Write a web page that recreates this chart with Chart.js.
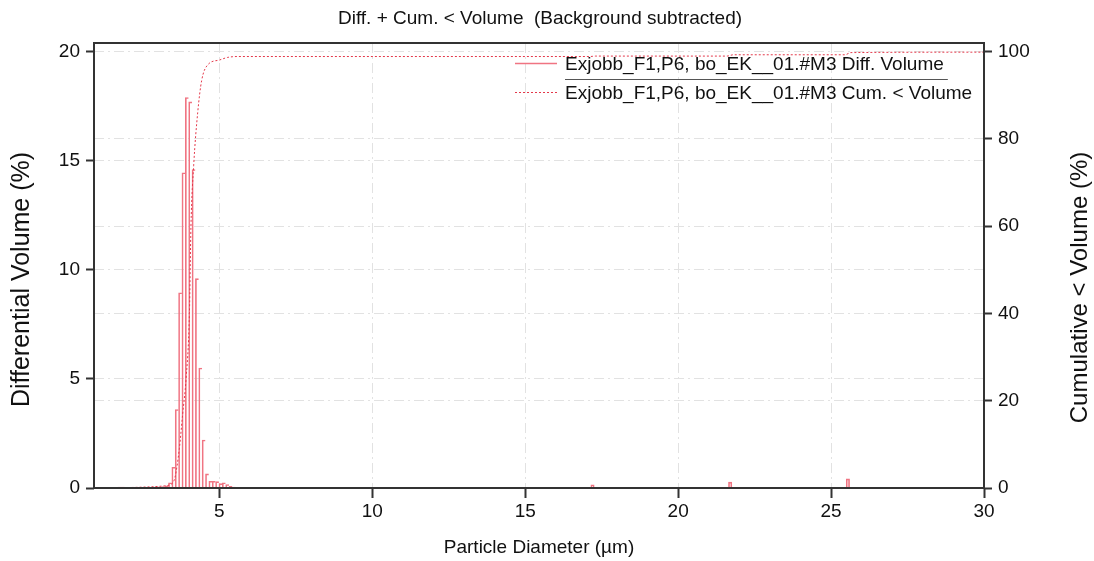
<!DOCTYPE html>
<html>
<head>
<meta charset="utf-8">
<script src="https://cdn.jsdelivr.net/npm/chart.js@4.4.0/dist/chart.umd.min.js"></script>
<style>
  html, body { margin: 0; padding: 0; background: #fff; }
</style>
</head>
<body>
<canvas id="chart" width="1094" height="561"></canvas>
<script>
// bin centres (µm) and differential volume (%)
const diameters = [
  1.30, 1.41, 1.52, 1.63, 1.74, 1.85, 1.96, 2.07, 2.18, 2.29,
  2.40, 2.51, 2.62, 2.73, 2.84, 2.95, 3.06, 3.17, 3.28, 3.39,
  3.50, 3.61, 3.72, 3.83, 3.94, 4.05, 4.16, 4.27, 4.38, 4.49,
  4.60, 4.71, 4.82, 4.93, 5.04, 5.15, 5.26, 5.37, 5.48, 5.59,
  6.57, 8.14, 17.2, 21.7, 25.55
];
const diffVolume = [
  0.02, 0.02, 0.03, 0.03, 0.04, 0.04, 0.03, 0.03, 0.03, 0.02,
  0.02, 0.03, 0.03, 0.03, 0.04, 0.05, 0.05, 0.07, 0.10, 0.24,
  0.95, 3.6, 8.95, 14.45, 17.9, 17.7, 14.6, 9.6, 5.5, 2.2,
  0.65, 0.31, 0.31, 0.29, 0.20, 0.24, 0.16, 0.08, 0.04, 0.02,
  0.02, 0.02, 0.15, 0.27, 0.42
];

// cumulative < volume (%)
const cumDiameters = [0.95, 2.5, 3.2, 3.45, 3.55, 3.69, 3.80, 3.91, 4.02, 4.07, 4.16, 4.29, 4.42, 4.62, 5.0, 5.27, 5.6, 17.1, 17.3, 21.6, 21.8, 25.45, 25.65, 30];
const cumVolume    = [0, 0.2, 0.5, 1.0, 2.5, 9, 17, 25, 40, 60, 74, 86, 93.4, 97.0, 98.1, 98.7, 98.9, 98.9, 99.0, 99.0, 99.3, 99.3, 99.8, 99.9];

const xTicks = [5, 10, 15, 20, 25, 30];
const diffTicks = [0, 5, 10, 15, 20];
const cumTicks = [0, 20, 40, 60, 80, 100];

const seriesLabels = [
  "Exjobb_F1,P6, bo_EK__01.#M3 Diff. Volume",
  "Exjobb_F1,P6, bo_EK__01.#M3 Cum. < Volume"
];
const chartTitle = "Diff. + Cum. < Volume  (Background subtracted)";

const FONT = '"Liberation Sans", Arial, sans-serif';
const barColor = "#f07482";
const cumColor = "#e4384a";
const gridColor = "#e2e2e2";
const axisColor = "#333";

Chart.defaults.font.family = FONT;
Chart.defaults.color = "#111";

// frame, title, y-axis titles and the legend inside the plot
const decorations = {
  id: "decorations",
  afterDraw(chart) {
    const { ctx, chartArea: a } = chart;
    const mid = (a.top + a.bottom) / 2;
    ctx.save();
    ctx.strokeStyle = axisColor;
    ctx.lineWidth = 2;
    ctx.strokeRect(a.left, a.top, a.right - a.left, a.bottom - a.top);

    ctx.fillStyle = "#111";
    ctx.textAlign = "center";
    ctx.textBaseline = "middle";
    ctx.font = "19px " + FONT;
    ctx.fillText(chartTitle, (a.left + a.right) / 2 + 1, 19);

    ctx.save();
    ctx.font = "25px " + FONT;
    ctx.translate(22, mid + 14);
    ctx.rotate(-Math.PI / 2);
    ctx.fillText("Differential Volume (%)", 0, 0);
    ctx.restore();
    ctx.save();
    ctx.font = "24px " + FONT;
    ctx.translate(chart.width - 14, mid + 22);
    ctx.rotate(-Math.PI / 2);
    ctx.fillText("Cumulative < Volume (%)", 0, 0);
    ctx.restore();

    // legend
    const ds = chart.data.datasets;
    const sx = a.right - 469, tx = a.right - 419;
    const rows = [a.top + 22, a.top + 51];
    ctx.font = "19px " + FONT;
    ctx.textAlign = "left";
    ds.forEach((d, i) => {
      const y = rows[i];
      ctx.beginPath();
      ctx.strokeStyle = i === 0 ? barColor : d.borderColor;
      ctx.lineWidth = i === 0 ? 1.5 : 1;
      ctx.setLineDash(i === 0 ? [] : [2, 2]);
      ctx.moveTo(sx, y - 1.5);
      ctx.lineTo(sx + 42, y - 1.5);
      ctx.stroke();
      ctx.setLineDash([]);
      ctx.fillStyle = "#111";
      ctx.fillText(d.label, tx, y);
    });
    const w = ctx.measureText(ds[0].label).width;
    ctx.beginPath();
    ctx.strokeStyle = "#555";
    ctx.lineWidth = 1;
    ctx.moveTo(tx, a.top + 36.5);
    ctx.lineTo(tx + w + 4, a.top + 36.5);
    ctx.stroke();
    ctx.restore();
  }
};

const gridBase = {
  color: gridColor,
  lineWidth: 1,
  tickColor: axisColor,
  tickWidth: 2,
  tickLength: 8
};

// neighbouring bins share one outline line
const barBorder = (c) => {
  const i = c.dataIndex;
  const next = diameters[i + 1];
  const joined = next !== undefined && next - diameters[i] < 0.12;
  return { left: 1, top: 1, right: joined ? 0 : 1, bottom: 0 };
};

new Chart(document.getElementById("chart"), {
  type: "bar",
  data: {
    datasets: [
      {
        type: "bar",
        label: seriesLabels[0],
        data: diameters.map((d, i) => ({ x: d, y: diffVolume[i] })),
        yAxisID: "y",
        borderColor: barColor,
        backgroundColor: "rgba(255,255,255,0)",
        borderWidth: barBorder,
        borderSkipped: false,
        barPercentage: 1,
        categoryPercentage: 1,
        order: 2
      },
      {
        type: "line",
        label: seriesLabels[1],
        data: cumDiameters.map((d, i) => ({ x: d, y: cumVolume[i] })),
        yAxisID: "y1",
        borderColor: cumColor,
        borderWidth: 1,
        borderDash: [2, 2],
        pointRadius: 0,
        fill: false,
        cubicInterpolationMode: "monotone",
        order: 1
      }
    ]
  },
  options: {
    responsive: false,
    animation: false,
    devicePixelRatio: 1,
    layout: { padding: { top: 43, left: 0, right: 0, bottom: 0 } },
    plugins: {
      legend: { display: false },
      title: { display: false },
      tooltip: { enabled: false }
    },
    scales: {
      x: {
        type: "linear",
        min: 0.9,
        max: 30,
        offset: false,
        afterBuildTicks: (s) => { s.ticks = xTicks.map(v => ({ value: v })); },
        afterFit: (s) => { s.height = 73; },
        ticks: { font: { size: 19 }, color: "#111", padding: 2, maxRotation: 0, autoSkip: false },
        grid: { ...gridBase, tickLength: 10, offset: false },
        border: { display: false, dash: [10, 4, 2, 4] },
        title: {
          display: true,
          text: "Particle Diameter (µm)",
          font: { size: 19 },
          color: "#111",
          padding: { top: 0, bottom: 2 }
        }
      },
      y: {
        position: "left",
        min: 0,
        max: 20.4,
        afterBuildTicks: (s) => { s.ticks = diffTicks.map(v => ({ value: v })); },
        afterFit: (s) => { s.width = 94; },
        ticks: { font: { size: 19 }, color: "#111", padding: 6 },
        grid: gridBase,
        border: { display: false, dash: [10, 4, 2, 4] }
      },
      y1: {
        position: "right",
        min: 0,
        max: 102,
        afterBuildTicks: (s) => { s.ticks = cumTicks.map(v => ({ value: v })); },
        afterFit: (s) => { s.width = 110; },
        ticks: { font: { size: 19 }, color: "#111", padding: 6 },
        grid: gridBase,
        border: { display: false, dash: [10, 4, 2, 4] }
      }
    }
  },
  plugins: [decorations]
});
</script>
</body>
</html>
